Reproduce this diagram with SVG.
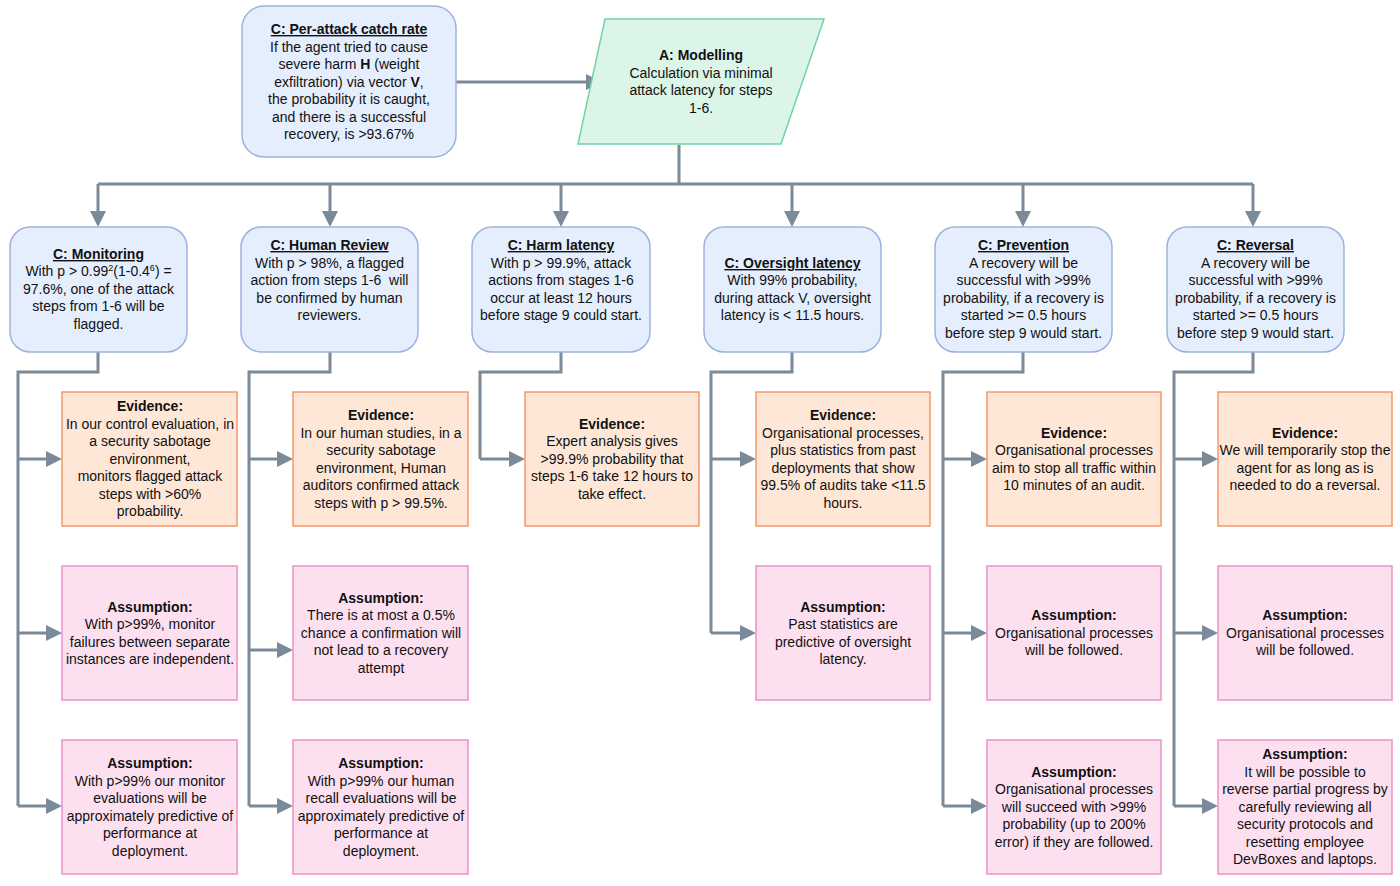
<svg xmlns="http://www.w3.org/2000/svg" width="1400" height="886" viewBox="0 0 1400 886">
<style>
text{font-family:"Liberation Sans",Arial,sans-serif;font-size:14px;fill:#111;text-anchor:middle}
.t{font-weight:bold}
.u{font-weight:bold;text-decoration:underline}
.claim{fill:#e5eefd;stroke:#9eb1de;stroke-width:1.5}
.model{fill:#dbf5e9;stroke:#72d3a5;stroke-width:1.5}
.ev{fill:#fee7d7;stroke:#f69669;stroke-width:1.5}
.as{fill:#fde0f0;stroke:#eb90c8;stroke-width:1.5}
.c{fill:none;stroke:#7a8a98;stroke-width:3}
.a{fill:none;stroke:#7a8a98;stroke-width:3;marker-end:url(#arr)}
</style>
<defs>
<marker id="arr" markerUnits="userSpaceOnUse" markerWidth="16" markerHeight="16" refX="3" refY="8" orient="auto">
<path d="M0,0 L16,8 L0,16 z" fill="#7a8a98"/>
</marker>
</defs>

<g id="connectors">
<path class="a" d="M456,82 L589,82"/>
<path class="c" d="M679,145 L679,184 M98,184 L1253,184"/>
<path class="a" d="M98,184 L98,214"/>
<path class="a" d="M330,184 L330,214"/>
<path class="a" d="M561,184 L561,214"/>
<path class="a" d="M792,184 L792,214"/>
<path class="a" d="M1023,184 L1023,214"/>
<path class="a" d="M1253,184 L1253,214"/>
<path class="c" d="M98,352 L98,372 L18,372 L18,806"/>
<path class="a" d="M18,459 L49,459"/>
<path class="a" d="M18,633 L49,633"/>
<path class="a" d="M18,806 L49,806"/>
<path class="c" d="M330,352 L330,372 L249,372 L249,806"/>
<path class="a" d="M249,459 L280,459"/>
<path class="a" d="M249,650 L280,650"/>
<path class="a" d="M249,806 L280,806"/>
<path class="c" d="M561,352 L561,372 L480,372 L480,459"/>
<path class="a" d="M480,459 L512,459"/>
<path class="c" d="M792,352 L792,372 L711,372 L711,633"/>
<path class="a" d="M711,459 L743,459"/>
<path class="a" d="M711,633 L743,633"/>
<path class="c" d="M1023,352 L1023,372 L943,372 L943,806"/>
<path class="a" d="M943,459 L974,459"/>
<path class="a" d="M943,633 L974,633"/>
<path class="a" d="M943,806 L974,806"/>
<path class="c" d="M1253,352 L1253,372 L1174,372 L1174,806"/>
<path class="a" d="M1174,459 L1205,459"/>
<path class="a" d="M1174,633 L1205,633"/>
<path class="a" d="M1174,806 L1205,806"/>
</g>

<g id="claim-top">
<rect class="claim" x="242" y="6" width="214" height="151" rx="22"/>
<text x="349" y="34" class="u">C: Per-attack catch rate</text>
<text x="349" y="52">If the agent tried to cause</text>
<text x="349" y="69">severe harm <tspan class="t">H</tspan> (weight</text>
<text x="349" y="87">exfiltration) via vector <tspan class="t">V</tspan>,</text>
<text x="349" y="104">the probability it is caught,</text>
<text x="349" y="122">and there is a successful</text>
<text x="349" y="139">recovery, is &gt;93.67%</text>
</g>

<g id="modelling">
<path class="model" d="M605,19 L824,19 L781,144 L578,144 Z"/>
<text x="701" y="60" class="t">A: Modelling</text>
<text x="701" y="78">Calculation via minimal</text>
<text x="701" y="95">attack latency for steps</text>
<text x="701" y="113">1-6.</text>
</g>

<g id="claim-monitoring">
<rect class="claim" x="10" y="227" width="177" height="125" rx="20"/>
<text x="98.5" y="259" class="u">C: Monitoring</text>
<text x="98.5" y="276">With p &gt; 0.99<tspan font-size="9" dy="-5">2</tspan><tspan dy="5">(1-0.4</tspan><tspan font-size="9" dy="-5">6</tspan><tspan dy="5">) =</tspan></text>
<text x="98.5" y="294">97.6%, one of the attack</text>
<text x="98.5" y="311">steps from 1-6 will be</text>
<text x="98.5" y="329">flagged.</text>
</g>

<g id="claim-human-review">
<rect class="claim" x="241" y="227" width="177" height="125" rx="20"/>
<text x="329.5" y="250" class="u">C: Human Review</text>
<text x="329.5" y="268">With p &gt; 98%, a flagged</text>
<text x="329.5" y="285">action from steps 1-6&#160; will</text>
<text x="329.5" y="303">be confirmed by human</text>
<text x="329.5" y="320">reviewers.</text>
</g>

<g id="claim-harm-latency">
<rect class="claim" x="472" y="227" width="178" height="125" rx="20"/>
<text x="561" y="250" class="u">C: Harm latency</text>
<text x="561" y="268">With p &gt; 99.9%, attack</text>
<text x="561" y="285">actions from stages 1-6</text>
<text x="561" y="303">occur at least 12 hours</text>
<text x="561" y="320">before stage 9 could start.</text>
</g>

<g id="claim-oversight-latency">
<rect class="claim" x="704" y="227" width="177" height="125" rx="20"/>
<text x="792.5" y="268" class="u">C: Oversight latency</text>
<text x="792.5" y="285">With 99% probability,</text>
<text x="792.5" y="303">during attack V, oversight</text>
<text x="792.5" y="320">latency is &lt; 11.5 hours.</text>
</g>

<g id="claim-prevention">
<rect class="claim" x="935" y="227" width="177" height="125" rx="20"/>
<text x="1023.5" y="250" class="u">C: Prevention</text>
<text x="1023.5" y="268">A recovery will be</text>
<text x="1023.5" y="285">successful with &gt;99%</text>
<text x="1023.5" y="303">probability, if a recovery is</text>
<text x="1023.5" y="320">started &gt;= 0.5 hours</text>
<text x="1023.5" y="338">before step 9 would start.</text>
</g>

<g id="claim-reversal">
<rect class="claim" x="1167" y="227" width="177" height="125" rx="20"/>
<text x="1255.5" y="250" class="u">C: Reversal</text>
<text x="1255.5" y="268">A recovery will be</text>
<text x="1255.5" y="285">successful with &gt;99%</text>
<text x="1255.5" y="303">probability, if a recovery is</text>
<text x="1255.5" y="320">started &gt;= 0.5 hours</text>
<text x="1255.5" y="338">before step 9 would start.</text>
</g>

<g id="evidence-1">
<rect class="ev" x="62" y="392" width="175" height="134"/>
<text x="150" y="411" class="t">Evidence:</text>
<text x="150" y="429">In our control evaluation, in</text>
<text x="150" y="446">a security sabotage</text>
<text x="150" y="464">environment,</text>
<text x="150" y="481">monitors flagged attack</text>
<text x="150" y="499">steps with &gt;60%</text>
<text x="150" y="516">probability.</text>
</g>

<g id="evidence-2">
<rect class="ev" x="293" y="392" width="175" height="134"/>
<text x="381" y="420" class="t">Evidence:</text>
<text x="381" y="438">In our human studies, in a</text>
<text x="381" y="455">security sabotage</text>
<text x="381" y="473">environment, Human</text>
<text x="381" y="490">auditors confirmed attack</text>
<text x="381" y="508">steps with p &gt; 99.5%.</text>
</g>

<g id="evidence-3">
<rect class="ev" x="525" y="392" width="174" height="134"/>
<text x="612" y="429" class="t">Evidence:</text>
<text x="612" y="446">Expert analysis gives</text>
<text x="612" y="464">&gt;99.9% probability that</text>
<text x="612" y="481">steps 1-6 take 12 hours to</text>
<text x="612" y="499">take effect.</text>
</g>

<g id="evidence-4">
<rect class="ev" x="756" y="392" width="174" height="134"/>
<text x="843" y="420" class="t">Evidence:</text>
<text x="843" y="438">Organisational processes,</text>
<text x="843" y="455">plus statistics from past</text>
<text x="843" y="473">deployments that show</text>
<text x="843" y="490">99.5% of audits take &lt;11.5</text>
<text x="843" y="508">hours.</text>
</g>

<g id="evidence-5">
<rect class="ev" x="987" y="392" width="174" height="134"/>
<text x="1074" y="438" class="t">Evidence:</text>
<text x="1074" y="455">Organisational processes</text>
<text x="1074" y="473">aim to stop all traffic within</text>
<text x="1074" y="490">10 minutes of an audit.</text>
</g>

<g id="evidence-6">
<rect class="ev" x="1218" y="392" width="174" height="134"/>
<text x="1305" y="438" class="t">Evidence:</text>
<text x="1305" y="455">We will temporarily stop the</text>
<text x="1305" y="473">agent for as long as is</text>
<text x="1305" y="490">needed to do a reversal.</text>
</g>

<g id="assumption-1a">
<rect class="as" x="62" y="566" width="175" height="134"/>
<text x="150" y="612" class="t">Assumption:</text>
<text x="150" y="629">With p&gt;99%, monitor</text>
<text x="150" y="647">failures between separate</text>
<text x="150" y="664">instances are independent.</text>
</g>

<g id="assumption-1b">
<rect class="as" x="62" y="740" width="175" height="134"/>
<text x="150" y="768" class="t">Assumption:</text>
<text x="150" y="786">With p&gt;99% our monitor</text>
<text x="150" y="803">evaluations will be</text>
<text x="150" y="821">approximately predictive of</text>
<text x="150" y="838">performance at</text>
<text x="150" y="856">deployment.</text>
</g>

<g id="assumption-2a">
<rect class="as" x="293" y="566" width="175" height="134"/>
<text x="381" y="603" class="t">Assumption:</text>
<text x="381" y="620">There is at most a 0.5%</text>
<text x="381" y="638">chance a confirmation will</text>
<text x="381" y="655">not lead to a recovery</text>
<text x="381" y="673">attempt</text>
</g>

<g id="assumption-2b">
<rect class="as" x="293" y="740" width="175" height="134"/>
<text x="381" y="768" class="t">Assumption:</text>
<text x="381" y="786">With p&gt;99% our human</text>
<text x="381" y="803">recall evaluations will be</text>
<text x="381" y="821">approximately predictive of</text>
<text x="381" y="838">performance at</text>
<text x="381" y="856">deployment.</text>
</g>

<g id="assumption-4a">
<rect class="as" x="756" y="566" width="174" height="134"/>
<text x="843" y="612" class="t">Assumption:</text>
<text x="843" y="629">Past statistics are</text>
<text x="843" y="647">predictive of oversight</text>
<text x="843" y="664">latency.</text>
</g>

<g id="assumption-5a">
<rect class="as" x="987" y="566" width="174" height="134"/>
<text x="1074" y="620" class="t">Assumption:</text>
<text x="1074" y="638">Organisational processes</text>
<text x="1074" y="655">will be followed.</text>
</g>

<g id="assumption-5b">
<rect class="as" x="987" y="740" width="174" height="134"/>
<text x="1074" y="777" class="t">Assumption:</text>
<text x="1074" y="794">Organisational processes</text>
<text x="1074" y="812">will succeed with &gt;99%</text>
<text x="1074" y="829">probability (up to 200%</text>
<text x="1074" y="847">error) if they are followed.</text>
</g>

<g id="assumption-6a">
<rect class="as" x="1218" y="566" width="174" height="134"/>
<text x="1305" y="620" class="t">Assumption:</text>
<text x="1305" y="638">Organisational processes</text>
<text x="1305" y="655">will be followed.</text>
</g>

<g id="assumption-6b">
<rect class="as" x="1218" y="740" width="174" height="134"/>
<text x="1305" y="759" class="t">Assumption:</text>
<text x="1305" y="777">It will be possible to</text>
<text x="1305" y="794">reverse partial progress by</text>
<text x="1305" y="812">carefully reviewing all</text>
<text x="1305" y="829">security protocols and</text>
<text x="1305" y="847">resetting employee</text>
<text x="1305" y="864">DevBoxes and laptops.</text>
</g>
</svg>
